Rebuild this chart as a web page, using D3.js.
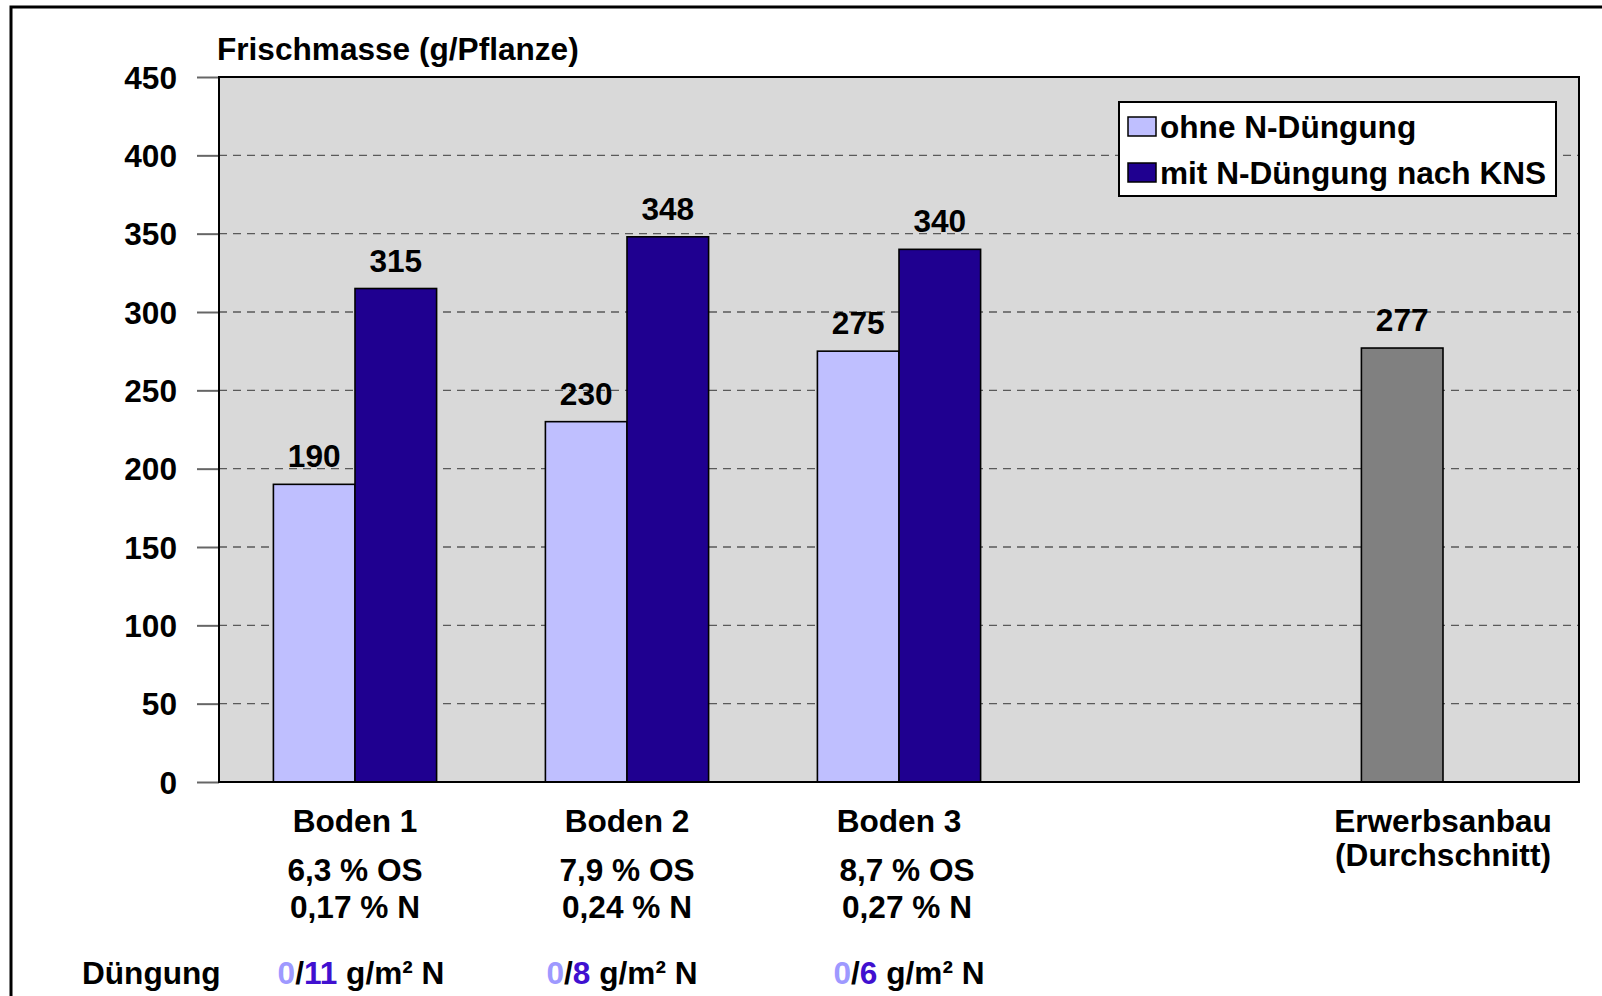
<!DOCTYPE html>
<html>
<head>
    <title>Frischmasse</title>
    <script src="https://d3js.org/d3.v7.min.js"></script>
    <style>
        body { margin: 0; background: #fff; }
        svg text { font-family: "Liberation Sans", Arial, sans-serif; font-weight: bold; font-size: 31.6px; fill: #000; }
    </style>
</head>
<body>
    <div id="chart"></div>
    <script>
        // data
        const slots = ["Boden 1", "Boden 2", "Boden 3", "leer", "Erwerbsanbau"];
        const seriesNames = ["ohne N-Düngung", "mit N-Düngung nach KNS"];
        const ohne = [190, 230, 275];
        const mit = [315, 348, 340];
        const erwerbsanbau = 277;
        const osLines = ["6,3 % OS", "7,9 % OS", "8,7 % OS"];
        const nLines = ["0,17 % N", "0,24 % N", "0,27 % N"];
        const duengOhne = [0, 0, 0];
        const duengMit = [11, 8, 6];
        const yTicks = [0, 50, 100, 150, 200, 250, 300, 350, 400, 450];

        const W = 1602, H = 996;
        const m = { left: 219, right: 1579, top: 77, bottom: 782 };
        const colors = { ohne: "#BFBFFF", mit: "#1F0090", erw: "#808080", bg: "#D9D9D9" };

        const svg = d3.select("#chart").append("svg")
            .attr("width", W).attr("height", H);

        // outer frame (runs off the right and bottom edge)
        svg.append("path")
            .attr("d", `M11,${H + 5} L11,7 L${W + 5},7`)
            .attr("fill", "none").attr("stroke", "#000").attr("stroke-width", 3);

        const y = d3.scaleLinear().domain([0, 450]).range([m.bottom, m.top]);
        const x0 = d3.scaleBand().domain(slots).range([m.left, m.right])
            .paddingInner(0.4).paddingOuter(0.2);
        const x1 = d3.scaleBand().domain(seriesNames).range([0, x0.bandwidth()]);

        // plot background
        svg.append("rect")
            .attr("x", m.left).attr("y", m.top)
            .attr("width", m.right - m.left).attr("height", m.bottom - m.top)
            .attr("fill", colors.bg);

        // gridlines
        svg.selectAll(".grid").data(yTicks.filter(d => d > 0 && d < 450)).join("line")
            .attr("x1", m.left).attr("x2", m.right)
            .attr("y1", d => y(d)).attr("y2", d => y(d))
            .attr("stroke", "#5a5a5a").attr("stroke-width", 1.4)
            .attr("stroke-dasharray", "8,6");

        // y axis ticks + labels
        const yAxis = d3.axisLeft(y).tickValues(yTicks).tickSize(22).tickPadding(20);
        const ga = svg.append("g").attr("transform", `translate(${m.left},0)`).call(yAxis);
        ga.select(".domain").remove();
        ga.selectAll(".tick line").attr("stroke", "#666").attr("stroke-width", 2);
        ga.selectAll(".tick text").attr("font-size", null).attr("font-family", null)
            .attr("fill", "#000").attr("dy", "0.35em");

        // bars
        const bars = [];
        slots.slice(0, 3).forEach((s, i) => {
            bars.push({ slot: s, ser: seriesNames[0], v: ohne[i], c: colors.ohne });
            bars.push({ slot: s, ser: seriesNames[1], v: mit[i], c: colors.mit });
        });
        bars.push({ slot: "Erwerbsanbau", ser: seriesNames[0], v: erwerbsanbau, c: colors.erw });

        svg.selectAll(".bar").data(bars).join("rect")
            .attr("x", d => x0(d.slot) + x1(d.ser))
            .attr("y", d => y(d.v))
            .attr("width", x1.bandwidth())
            .attr("height", d => y(0) - y(d.v))
            .attr("fill", d => d.c)
            .attr("stroke", "#000").attr("stroke-width", 1.6);

        svg.selectAll(".val").data(bars).join("text")
            .attr("x", d => x0(d.slot) + x1(d.ser) + x1.bandwidth() / 2)
            .attr("y", d => y(d.v) - 17)
            .attr("text-anchor", "middle")
            .text(d => d.v);

        // plot border
        svg.append("rect")
            .attr("x", m.left).attr("y", m.top)
            .attr("width", m.right - m.left).attr("height", m.bottom - m.top)
            .attr("fill", "none").attr("stroke", "#000").attr("stroke-width", 2);

        // title
        svg.append("text").attr("x", m.left - 2).attr("y", 60).text("Frischmasse (g/Pflanze)");

        // category labels
        const cx = s => x0(s) + x0.bandwidth() / 2;
        const infoShift = [0, 0, 8];
        slots.slice(0, 3).forEach((s, i) => {
            svg.append("text").attr("x", cx(s)).attr("y", 832).attr("text-anchor", "middle").text(s);
            svg.append("text").attr("x", cx(s) + infoShift[i]).attr("y", 881).attr("text-anchor", "middle").text(osLines[i]);
            svg.append("text").attr("x", cx(s) + infoShift[i]).attr("y", 918).attr("text-anchor", "middle").text(nLines[i]);
        });
        svg.append("text").attr("x", cx("Erwerbsanbau")).attr("y", 832).attr("text-anchor", "middle").text("Erwerbsanbau");
        svg.append("text").attr("x", cx("Erwerbsanbau")).attr("y", 866).attr("text-anchor", "middle").text("(Durchschnitt)");

        // Düngung row
        svg.append("text").attr("x", 82).attr("y", 984).text("Düngung");
        const dShift = [6, -5, 10];
        slots.slice(0, 3).forEach((s, i) => {
            const t = svg.append("text").attr("x", cx(s) + dShift[i]).attr("y", 984).attr("text-anchor", "middle");
            t.append("tspan").attr("fill", "#9E99FF").text(duengOhne[i]);
            t.append("tspan").text("/");
            t.append("tspan").attr("fill", "#4010D0").text(duengMit[i]);
            t.append("tspan").text(" g/m² N");
        });

        // legend
        const lg = svg.append("g");
        lg.append("rect").attr("x", 1119).attr("y", 102).attr("width", 437).attr("height", 94)
            .attr("fill", "#fff").attr("stroke", "#000").attr("stroke-width", 2);
        const items = [{ n: seriesNames[0], c: colors.ohne }, { n: seriesNames[1], c: colors.mit }];
        items.forEach((it, i) => {
            const yy = 117 + i * 46;
            lg.append("rect").attr("x", 1128).attr("y", yy).attr("width", 28).attr("height", 19)
                .attr("fill", it.c).attr("stroke", "#000").attr("stroke-width", 1.5);
            lg.append("text").attr("x", 1160).attr("y", yy + 21).text(it.n);
        });
    </script>
</body>
</html>
